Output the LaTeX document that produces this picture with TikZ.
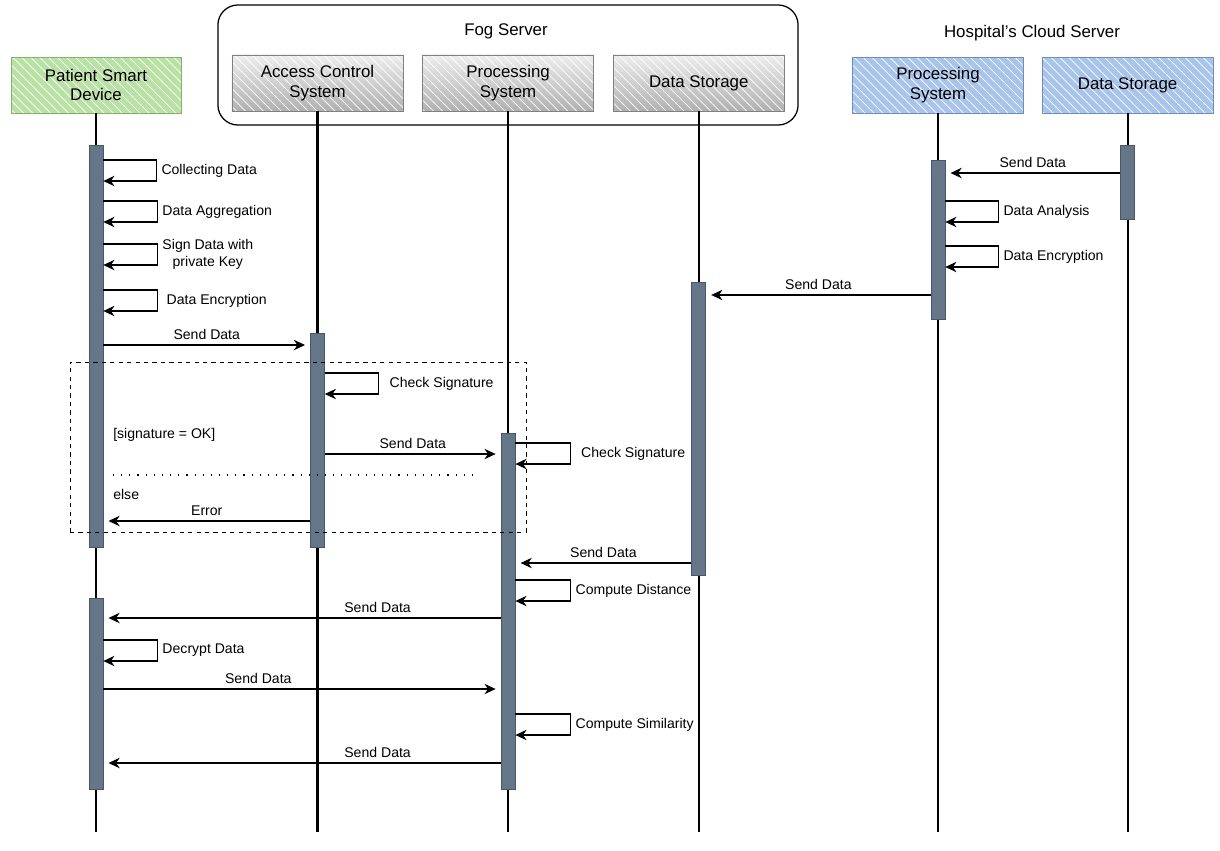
\documentclass[tikz,border=0pt]{standalone}
\usepackage{fontspec}
\setmainfont{Liberation Sans}
\usetikzlibrary{arrows.meta,positioning,patterns.meta}

\begin{document}
\begin{tikzpicture}[x=0.025cm,y=-0.025cm]
    \definecolor{mygreenf}{HTML}{B9E0A5}
    \definecolor{mygreend}{HTML}{82B366}
    \definecolor{mybluef}{HTML}{A9C4EB}
    \definecolor{mybluesd}{HTML}{6C8EBF}
    \definecolor{mygrayt}{HTML}{EDEDED}
    \definecolor{mygrayb}{HTML}{B0B0B0}
    \definecolor{mygrayd}{HTML}{808080}
    \definecolor{mybar}{HTML}{647687}
    \definecolor{mybard}{HTML}{4A5866}

    \useasboundingbox (0,0) rectangle (1220,850);
    \fontsize{10}{12}\selectfont  % 消息文字大小
    \tikzstyle{hatch}=[path picture={\fill[pattern={Lines[angle=-45,distance=4.5pt,line width=0.5pt]},pattern color=white] (path picture bounding box.south west) rectangle (path picture bounding box.north east);}]
    \tikzstyle{head}=[rectangle,draw,thin,minimum width=4.275cm,minimum height=1.4cm,align=center,font=\fontsize{12}{14}\selectfont,hatch]
    \tikzstyle{green}=[fill=mygreenf,draw=mygreend]
    \tikzstyle{gray}=[top color=mygrayt,bottom color=mygrayb,draw=mygrayd]
    \tikzstyle{blue}=[fill=mybluef,draw=mybluesd]
    \tikzstyle{bar}=[rectangle,draw=mybard,fill=mybar,minimum width=0.35cm,inner sep=0pt]
    \tikzstyle{life}=[line width=1.6pt]
    \tikzstyle{msg}=[line width=0.75pt,-{Stealth[length=2.8mm,width=2.6mm,inset=0.9mm]},shorten >=0.13cm]
    \tikzstyle{self}=[line width=0.75pt,-{Stealth[length=2.8mm,width=2.6mm,inset=0.9mm]}]

    % 服务器外框
    \node[draw,line width=0.9pt,rounded corners=0.5cm,minimum width=14.5cm,minimum height=3cm] (fog) at (508,65) {};
    \node[font=\fontsize{12}{14}\selectfont] (fogt) at (506,31) {Fog Server};
    \node[font=\fontsize{12}{14}\selectfont] (cloudt) at (1032,33) {Hospital's Cloud Server};

    % 参与者
    \node[head,green,minimum width=4.25cm] (pd) at (96,85) {Patient Smart\\Device};
    \node[head,gray] (ac) at (317.5,83) {Access Control\\System};
    \node[head,gray,right=0.475cm of ac] (pr) {Processing\\System};
    \node[head,gray,right=0.475cm of pr] (ds) {Data Storage};
    \node[head,blue] (cp) at (938,85) {Processing\\System};
    \node[head,blue,right=0.45cm of cp] (cd) {Data Storage};

    % 生命线
    \draw[life](pd.south)--(pd.south |- 0,832);
    \draw[life](ac.south)--(ac.south |- 0,832);
    \draw[life](pr.south)--(pr.south |- 0,832);
    \draw[life](ds.south)--(ds.south |- 0,832);
    \draw[life](cp.south)--(cp.south |- 0,832);
    \draw[life](cd.south)--(cd.south |- 0,832);

    % 激活条
    \node[bar,minimum height=10.05cm] (pd1) at (pd |- 0,346) {};
    \node[bar,minimum height=4.775cm] (pd2) at (pd |- 0,693.5) {};
    \node[bar,minimum height=5.35cm] (ac1) at (ac |- 0,440) {};
    \node[bar,minimum height=8.9cm] (pr1) at (pr |- 0,611) {};
    \node[bar,minimum height=7.325cm] (ds1) at (ds |- 0,428.5) {};
    \node[bar,minimum height=3.975cm] (cp1) at (cp |- 0,239.5) {};
    \node[bar,minimum height=1.85cm] (cd1) at (cd |- 0,182) {};

    % 患者设备
    \draw[self](pd1.east |- 0,160)--++(53,0)--node[right]{Collecting Data}++(0,21)--(pd1.east |- 0,181);
    \draw[self](pd1.east |- 0,201)--++(54,0)--node[right]{Data Aggregation}++(0,21)--(pd1.east |- 0,222);
    \draw[self](pd1.east |- 0,244)--++(54,0)--node[right,align=center]{Sign Data with\\private Key}++(0,21)--(pd1.east |- 0,265);
    \draw[self](pd1.east |- 0,290)--++(54,0)--node[right,xshift=3pt]{Data Encryption}++(0,21)--(pd1.east |- 0,311);
    \draw[msg](pd1.east |- 0,345)--node[above]{Send Data}(ac1.west |- 0,345);

    % alt 框
    \node[draw,dashed,thin,minimum width=11.4cm,minimum height=4.25cm] (alt) at (298,447) {};
    \node[anchor=west,inner sep=0pt] (okt) at (113,435) {[signature = OK]};
    \node[anchor=west,inner sep=0pt] (elset) at (113,494) {else};
    \draw[line width=0.8pt,dash pattern=on 0.8pt off 5pt](113,475)--(480,475);

    \draw[self](ac1.east |- 0,373)--++(54,0)--node[right,xshift=4pt]{Check Signature}++(0,21)--(ac1.east |- 0,394);
    \draw[msg](ac1.east |- 0,454)--node[above]{Send Data}(pr1.west |- 0,454);
    \draw[msg](ac1.west |- 0,521)--node[above]{Error}(pd1.east |- 0,521);

    % 雾服务器处理
    \draw[self](pr1.east |- 0,443)--++(55,0)--node[right,xshift=4pt]{Check Signature}++(0,21)--(pr1.east |- 0,464);
    \draw[msg](ds1.west |- 0,563)--node[above]{Send Data}(pr1.east |- 0,563);
    \draw[self](pr1.east |- 0,580)--++(55,0)--node[right]{Compute Distance}++(0,21)--(pr1.east |- 0,601);
    \draw[msg](pr1.west |- 0,618)--node[above,pos=0.31]{Send Data}(pd2.east |- 0,618);
    \draw[self](pd2.east |- 0,640)--++(54,0)--node[right]{Decrypt Data}++(0,21)--(pd2.east |- 0,661);
    \draw[msg](pd2.east |- 0,689)--node[above,pos=0.39]{Send Data}(pr1.west |- 0,689);
    \draw[self](pr1.east |- 0,714)--++(55,0)--node[right]{Compute Similarity}++(0,21)--(pr1.east |- 0,735);
    \draw[msg](pr1.west |- 0,763)--node[above,pos=0.31]{Send Data}(pd2.east |- 0,763);

    % 云服务器
    \draw[msg](cd1.west |- 0,173)--node[above,pos=0.5]{Send Data}(cp1.east |- 0,173);
    \draw[self](cp1.east |- 0,201)--++(53,0)--node[right]{Data Analysis}++(0,21)--(cp1.east |- 0,222);
    \draw[self](cp1.east |- 0,246)--++(53,0)--node[right]{Data Encryption}++(0,21)--(cp1.east |- 0,267);
    \draw[msg](cp1.west |- 0,295)--node[above]{Send Data}(ds1.east |- 0,295);
\end{tikzpicture}
\end{document}
